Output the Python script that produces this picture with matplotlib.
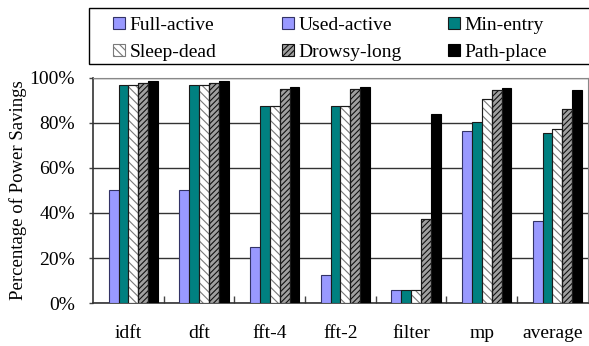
import numpy as np
import matplotlib
matplotlib.use("Agg")
import matplotlib.pyplot as plt
from matplotlib.patches import Rectangle

plt.rcParams['font.family'] = ['Liberation Serif', 'DejaVu Serif']
plt.rcParams['hatch.linewidth'] = 0.8

categories = ['idft', 'dft', 'fft-4', 'fft-2', 'filter', 'mp', 'average']
full_active = [0, 0, 0, 0, 0, 0, 0]
used_active = [50, 50, 25, 12.5, 6, 76.5, 36.5]
min_entry = [96.7, 96.7, 87.5, 87.5, 6, 80.3, 75.5]
sleep_dead = [96.7, 96.7, 87.5, 87.5, 6, 90.5, 77.3]
drowsy_long = [97.7, 97.7, 95, 95, 37.2, 94.6, 86.2]
path_place = [98.8, 98.8, 95.8, 95.8, 84, 95.4, 94.6]

W, H = 589, 346
fig = plt.figure(figsize=(W / 100, H / 100), dpi=100)
ax = fig.add_axes([0.158, 0.124, 0.84, 0.651])

x = np.arange(len(categories))
w = 0.14

styles = [
    ('Full-active', full_active, dict(color='#9999FF', edgecolor='#333366')),
    ('Used-active', used_active, dict(color='#9999FF', edgecolor='#333366')),
    ('Min-entry', min_entry, dict(color='#008080', edgecolor='#1a1a1a')),
    ('Sleep-dead', sleep_dead, dict(color='white', edgecolor='#7a7a7a', hatch='\\\\\\\\')),
    ('Drowsy-long', drowsy_long, dict(color='#a0a0a0', edgecolor='#111111', hatch='//////')),
    ('Path-place', path_place, dict(color='black', edgecolor='black')),
]

for k, (name, vals, st) in enumerate(styles):
    pos = x + (k - 2.5) * w
    ax.bar(pos, vals, w, label=name, linewidth=0.8, zorder=3, **st)
    if 'hatch' in st:
        ax.bar(pos, vals, w, fill=False, edgecolor='#1a1a1a', linewidth=0.8, zorder=4)

ax.set_xlim(-0.5, len(categories) - 0.5)
ax.set_ylim(0, 100)
ax.set_yticks(np.arange(0, 101, 20))
ax.set_yticklabels(['%d%%' % v for v in range(0, 101, 20)], fontsize=14)
ax.set_xticks(x)
ax.set_xticklabels(categories, fontsize=14)
ax.tick_params(axis='x', length=0, pad=16)
ax.set_xticks(x[:-1] + 0.5, minor=True)
ax.tick_params(axis='x', which='minor', direction='in', length=5, width=1, color='#444444')
ax.tick_params(axis='y', direction='out', length=3, width=1, color='#444444', pad=10)
ax.grid(axis='y', color='#333333', linewidth=1, zorder=0)
ax.set_axisbelow(True)
for s in ['top', 'right']:
    ax.spines[s].set_color('#888888')
for s in ['left', 'bottom']:
    ax.spines[s].set_color('#333333')
    ax.spines[s].set_linewidth(1.2)
ax.set_ylabel('Percentage of Power Savings', fontsize=13.5, labelpad=2)

# legend: box runs off the right edge, columns evenly spaced (row-major order)
fig.add_artist(Rectangle((89 / W, 1 - 64 / H), 520 / W, 56 / H, transform=fig.transFigure,
                         facecolor='white', edgecolor='black', linewidth=1, zorder=1))
handles, labels = ax.get_legend_handles_labels()
col_x = [113, 282, 448]
for c in range(3):
    idx = [c, c + 3]
    lg = fig.legend([handles[i] for i in idx], [labels[i] for i in idx],
                    loc='upper left', bbox_to_anchor=(col_x[c] / W, 1 - 17 / H),
                    fontsize=14, frameon=False, handlelength=0.6, handleheight=0.6,
                    handletextpad=0.25, borderaxespad=0, borderpad=0,
                    labelspacing=0.5)
    lg.set_zorder(2)

fig.savefig('out.png', dpi=100)
